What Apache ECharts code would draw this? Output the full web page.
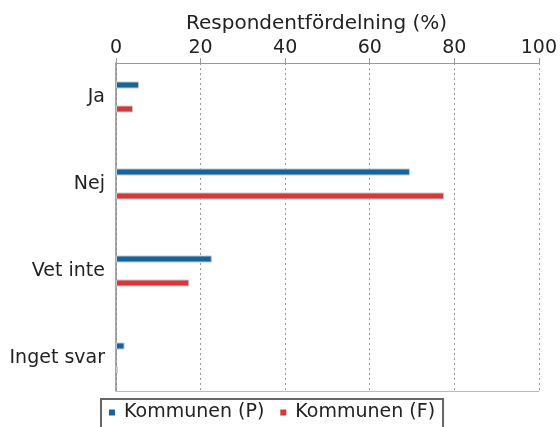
<!DOCTYPE html>
<html>
<head>
<meta charset="UTF-8">
<title>Respondentfördelning</title>
<script src="https://cdn.jsdelivr.net/npm/echarts@6/dist/echarts.min.js"></script>
<style>
  html, body { margin: 0; padding: 0; background: #fff; }
  #main { width: 560px; height: 427px; }
</style>
</head>
<body>
<div id="main"></div>
<script>
// data
const categories = ['Ja', 'Nej', 'Vet inte', 'Inget svar'];
const seriesNames = ['Kommunen (P)', 'Kommunen (F)'];
const valuesP = [5.4, 69, 22.5, 2];
const valuesF = [4, 77, 17.2, 0.4];
const xTicks = [0, 20, 40, 60, 80, 100];

const font = 'DejaVu Sans';
const chart = echarts.init(document.getElementById('main'));

const option = {
  animation: false,
  title: {
    text: 'Respondentfördelning (%)',
    left: 181,
    top: 9,
    textStyle: { fontFamily: font, fontSize: 20, fontWeight: 'normal', color: '#222' }
  },
  legend: {
    data: seriesNames,
    left: 101,
    top: 399,
    icon: 'rect',
    itemWidth: 6,
    itemHeight: 6,
    itemGap: 16,
    padding: [4, 8, 20, 8],
    borderColor: '#666',
    borderWidth: 2,
    itemStyle: { borderWidth: 0 },
    textStyle: { fontFamily: font, fontSize: 19, color: '#222', padding: [0, 0, 0, 4] }
  },
  grid: [
    // frame
    { left: 116, right: 18, top: 63, bottom: 36 },
    // bars
    { left: 116, right: 18, top: 53.5, bottom: 25.5 }
  ],
  xAxis: [
    {
      gridIndex: 0,
      type: 'value',
      position: 'top',
      min: xTicks[0],
      max: xTicks[xTicks.length - 1],
      interval: 20,
      axisLine: { show: true, onZero: false, lineStyle: { color: '#999' } },
      axisTick: { show: true, length: 5, lineStyle: { color: '#999' } },
      axisLabel: { margin: 5, fontFamily: font, fontSize: 19, color: '#222' },
      splitLine: { show: true, lineStyle: { color: '#999', type: [2, 3] } }
    },
    {
      gridIndex: 0,
      type: 'value',
      position: 'bottom',
      min: 0,
      max: 100,
      axisLine: { show: true, onZero: false, lineStyle: { color: '#bbb' } },
      axisTick: { show: false },
      axisLabel: { show: false },
      splitLine: { show: false }
    },
    {
      gridIndex: 1,
      type: 'value',
      min: 0,
      max: 100,
      show: false
    }
  ],
  yAxis: [
    {
      gridIndex: 0,
      type: 'value',
      min: 0,
      max: 1,
      axisLine: { show: true, onZero: false, lineStyle: { color: '#888', width: 1.5 } },
      axisTick: { show: false },
      axisLabel: { show: false },
      splitLine: { show: false }
    },
    {
      gridIndex: 1,
      type: 'category',
      data: categories,
      inverse: true,
      axisLine: { show: false },
      axisTick: { show: false },
      axisLabel: { margin: 11, fontFamily: font, fontSize: 19, color: '#222' }
    }
  ],
  series: [
    {
      name: seriesNames[0],
      type: 'bar',
      xAxisIndex: 2,
      yAxisIndex: 1,
      data: valuesP,
      barWidth: 7,
      barGap: '243%',
      itemStyle: { color: '#1464a0', borderColor: '#c8c8c8', borderWidth: 1 }
    },
    {
      name: seriesNames[1],
      type: 'bar',
      xAxisIndex: 2,
      yAxisIndex: 1,
      data: valuesF,
      barWidth: 7,
      barGap: '243%',
      itemStyle: { color: '#d7383a', borderColor: '#c8c8c8', borderWidth: 1 }
    }
  ]
};

chart.setOption(option);
</script>
</body>
</html>
